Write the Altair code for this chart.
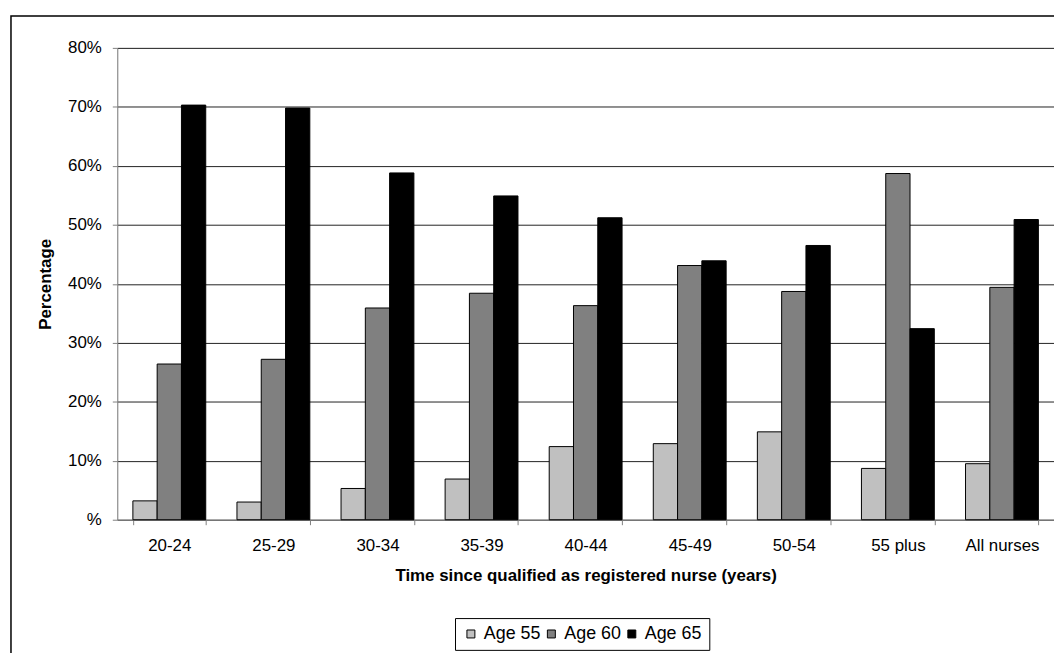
import altair as alt
import pandas as pd

categories = ["20-24", "25-29", "30-34", "35-39", "40-44", "45-49", "50-54", "55 plus", "All nurses"]
series = ["Age 55", "Age 60", "Age 65"]
age55 = [3.2, 3.0, 5.3, 6.9, 12.4, 12.9, 14.9, 8.7, 9.5]
age60 = [26.4, 27.2, 35.9, 38.4, 36.3, 43.1, 38.7, 58.7, 39.4]
age65 = [70.3, 69.8, 58.8, 54.9, 51.2, 43.9, 46.5, 32.4, 50.9]
y_ticks = [0, 0.1, 0.2, 0.3, 0.4, 0.5, 0.6, 0.7, 0.8]
colors = ["#C0C0C0", "#808080", "#000000"]

rows = []
for s, vals in zip(series, [age55, age60, age65]):
    for c, v in zip(categories, vals):
        rows.append({"cat": c, "series": s, "value": v / 100})
df = pd.DataFrame(rows)

FONT = "Liberation Sans"

bars = alt.Chart(df).mark_bar(stroke="#000000", strokeWidth=1).encode(
    x=alt.X("cat:N", sort=categories,
            scale=alt.Scale(paddingInner=0.3, paddingOuter=0.15),
            axis=alt.Axis(title="Time since qualified as registered nurse (years)",
                          labelAngle=0, tickBand="extent", tickSize=5,
                          labelPadding=13, titlePadding=14,
                          labelFontSize=17, titleFontSize=17, titleFontWeight="bold",
                          domainColor="#808080", tickColor="#808080",
                          labelColor="#000000", titleColor="#000000",
                          labelFont=FONT, titleFont=FONT, grid=False)),
    xOffset=alt.XOffset("series:N", sort=series,
                        scale=alt.Scale(paddingInner=0, paddingOuter=0)),
    y=alt.Y("value:Q",
            scale=alt.Scale(domain=[0, 0.8], nice=False),
            axis=alt.Axis(title="Percentage", values=y_ticks,
                          labelExpr="datum.value == 0 ? '%' : format(datum.value, '.0%')",
                          tickSize=5, labelPadding=11, titlePadding=13,
                          labelFontSize=17, titleFontSize=17, titleFontWeight="bold",
                          domainColor="#808080", tickColor="#808080",
                          gridColor="#222222", gridWidth=1, grid=True,
                          labelColor="#000000", titleColor="#000000",
                          labelFont=FONT, titleFont=FONT)),
    color=alt.Color("series:N", sort=series,
                    scale=alt.Scale(domain=series, range=colors),
                    legend=alt.Legend(title=None, orient="none", direction="horizontal",
                                      legendX=340, legendY=574,
                                      strokeColor="#000000", padding=7,
                                      symbolType="square", symbolSize=64,
                                      symbolStrokeColor="#000000", symbolStrokeWidth=1,
                                      labelFontSize=18, labelFont=FONT, labelColor="#000000",
                                      labelOffset=4, columnPadding=1)),
)

frame = alt.Chart(alt.Data(values=[{"a": 1}])).mark_rect(
    fill="transparent", stroke="#000000", strokeWidth=1.5
).encode(
    x=alt.value(-107), x2=alt.value(1100),
    y=alt.value(-32), y2=alt.value(700),
)

chart = alt.layer(frame, bars).properties(
    width=943, height=475,
    autosize="none",
    padding={"left": 110, "top": 38, "right": 0, "bottom": 132},
).configure_view(
    stroke="#808080", strokeWidth=1
).configure(
    background="#ffffff"
)

chart.save("out.html", embed_options={"renderer": "svg", "actions": False})
